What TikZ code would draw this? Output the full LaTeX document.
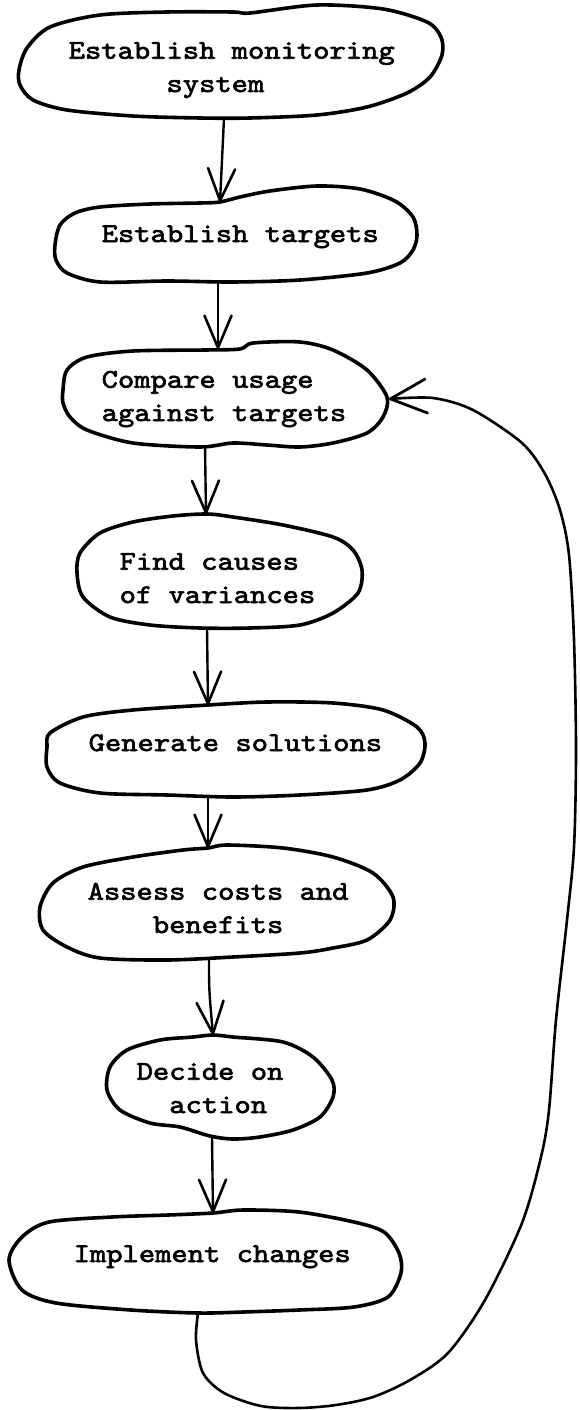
\documentclass[tikz,border=0pt]{standalone}
\usepackage{fontspec}
\newfontfamily\stepfont{lmmono10-regular.otf}[FakeStretch=1.15,FakeBold=2.4]
\usetikzlibrary{arrows.meta}
\begin{document}
\begin{tikzpicture}[x=1pt,y=-1pt,
  blob/.style={line width=3.6pt, line join=round},
  flow/.style={line width=2.4pt, line cap=round,
    -{Straight Barb[length=32pt,width=27pt,line width=2.6pt,round]}},
  feedback/.style={line width=2.6pt, line cap=round,
    -{Straight Barb[length=36pt,width=34pt,line width=2.8pt,round]}},
  steptext/.style={font=\stepfont\fontsize{27pt}{33.3pt}\selectfont,
    inner sep=0pt, align=left, anchor=base west},
]
\useasboundingbox (0,0) rectangle (579,1410);

% step labels (anchored at the baseline of the last line)
\node[steptext] (s1) at (68.5,92)  {Establish monitoring\\\phantom{xxxxxx}system};
\node[steptext] (s2) at (101.5,242) {Establish targets};
\node[steptext] (s3) at (101.5,421) {Compare usage\\against targets};
\node[steptext] (s4) at (119.5,603) {Find causes\\of variances};
\node[steptext] (s5) at (88.5,751)  {Generate solutions};
\node[steptext] (s6) at (87.5,933)  {Assess costs and\\\phantom{xxxx}benefits};
\node[steptext] (s7) at (136.5,1113) {Decide on\\\phantom{xx}action};
\node[steptext] (s8) at (73.5,1262) {Implement changes};

% hand-drawn outlines round the steps
\draw[blob] plot[smooth cycle] coordinates {(19,70) (27,48) (50,27) (100,15) (167,12) (233,12) (250,13) (317,5) (383,9) (427,22) (441,37) (442,55) (430,77) (407,93) (367,107) (317,115) (250,118) (200,118) (133,116) (67,110) (33,100) (20,85)};
\draw[blob] plot[smooth cycle] coordinates {(55,245) (60,225) (75,213) (100,207) (150,204) (200,203) (220,202) (240,197) (270,191) (317,186) (360,189) (395,201) (413,217) (417,235) (413,250) (400,263) (367,273) (300,280) (233,282) (167,281) (100,282) (67,273) (56,260)};
\draw[blob] plot[smooth cycle] coordinates {(63,390) (67,370) (87,357) (133,351) (205,350) (240,349) (253,343) (300,342) (333,350) (367,370) (387,397) (383,417) (367,433) (333,443) (300,447) (267,445) (233,443) (200,447) (133,443) (87,430) (70,417) (63,403)};
\draw[blob] plot[smooth cycle] coordinates {(207,514) (233,517) (283,525) (333,537) (353,550) (362,570) (358,593) (333,613) (300,625) (250,628) (200,628) (150,625) (110,617) (83,597) (77,573) (80,553) (100,533) (133,522) (173,516)};
\draw[blob] plot[smooth cycle] coordinates {(50,733) (83,717) (133,710) (208,705) (267,702) (333,703) (383,710) (417,727) (425,743) (420,763) (400,780) (367,790) (300,795) (233,797) (167,795) (100,793) (60,783) (47,767) (47,747)};
\draw[blob] plot[smooth cycle] coordinates {(208,848) (227,845) (283,848) (333,857) (373,873) (393,897) (390,920) (367,940) (333,948) (300,953) (233,957) (167,960) (100,958) (67,947) (43,930) (40,907) (53,883) (83,867) (133,857) (183,850)};
\draw[blob] plot[smooth cycle] coordinates {(213,1035) (233,1037) (283,1042) (313,1057) (332,1080) (333,1097) (320,1117) (293,1130) (260,1137) (233,1139) (210,1136) (180,1127) (150,1123) (120,1110) (107,1090) (110,1067) (127,1050) (160,1040) (193,1037)};
\draw[blob] plot[smooth cycle] coordinates {(213,1213) (243,1210) (299,1212) (354,1222) (384,1232) (399,1253) (401,1273) (388,1297) (354,1307) (299,1310) (243,1312) (198,1313) (131,1310) (56,1303) (22,1290) (9,1260) (22,1237) (49,1222) (112,1217) (168,1215)};

% connection points on the outlines
\coordinate (s1-out) at (224,118);
\coordinate (s2-in)  at (220,202);
\coordinate (s2-out) at (218,282);
\coordinate (s3-in)  at (218,349);
\coordinate (s3-side) at (389,399);
\coordinate (s3-out) at (205,446);
\coordinate (s4-in)  at (206,514);
\coordinate (s4-out) at (207,628);
\coordinate (s5-in)  at (208,705);
\coordinate (s5-out) at (208,797);
\coordinate (s6-in)  at (208,848);
\coordinate (s6-out) at (209,959);
\coordinate (s7-in)  at (213,1035);
\coordinate (s7-out) at (212,1137);
\coordinate (s8-in)  at (213,1213);
\coordinate (s8-out) at (198,1313);

% forward flow
\draw[flow] (s1-out) -- (s2-in);
\draw[flow] (s2-out) -- (s3-in);
\draw[flow] (s3-out) -- (s4-in);
\draw[flow] (s4-out) -- (s5-in);
\draw[flow] (s5-out) -- (s6-in);
\draw[flow] (s6-out) .. controls (209,990) .. (s7-in);
\draw[flow] (s7-out) -- (s8-in);

% feedback loop back to the comparison step
\draw[feedback] plot[smooth] coordinates {(s8-out) (196,1340) (203,1373) (224,1393) (261,1406) (299,1408) (336,1405) (373,1397) (410,1380) (448,1353) (485,1300) (522,1223) (541,1157) (549,1110) (556,1020) (567,920) (574,847) (576,750) (574,640) (569,555) (560,510) (545,474) (522,443) (473,410) (433,398) (s3-side)};
\end{tikzpicture}
\end{document}
